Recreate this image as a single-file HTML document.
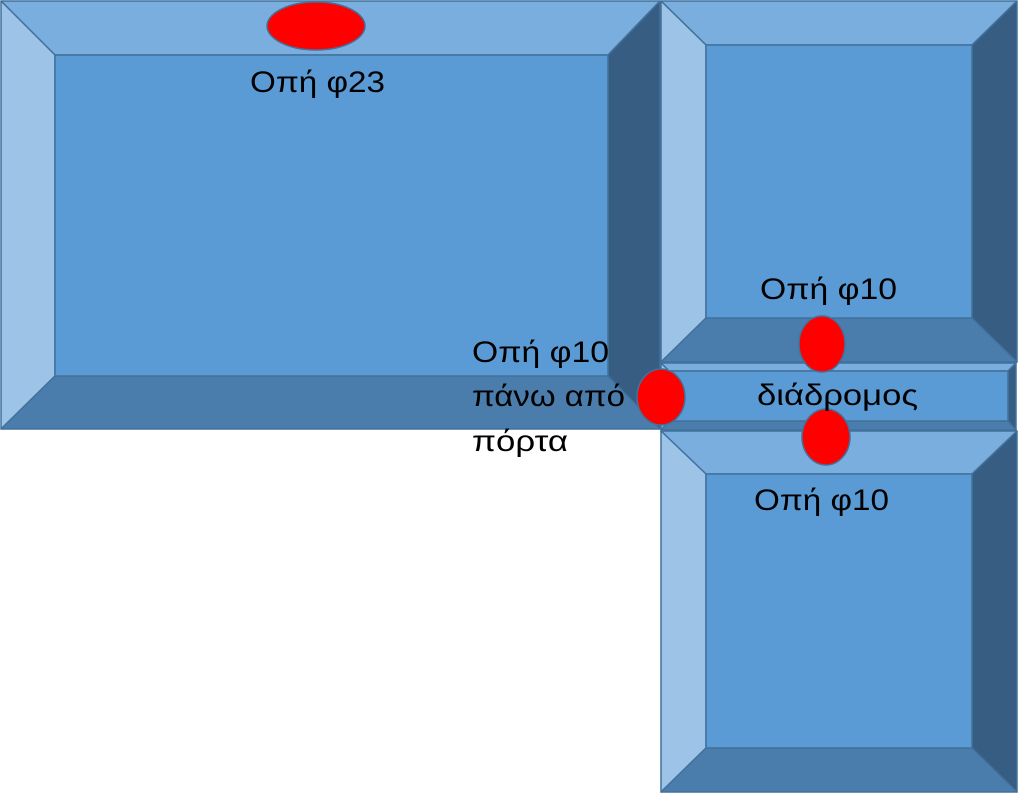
<!DOCTYPE html>
<html><head><meta charset="utf-8"><style>
html,body{margin:0;padding:0;background:#fff;}
svg{display:block;}
text{font-family:"Liberation Sans","DejaVu Sans",sans-serif;font-size:30px;fill:#000;}
</style></head><body>
<svg width="1018" height="793" viewBox="0 0 1018 793" xmlns="http://www.w3.org/2000/svg">
<g stroke="#41719c" stroke-width="1.5" stroke-linejoin="round">
<polygon points="1,1 660,1 608,55 55,55" fill="#7aaedf"/>
<polygon points="1,1 55,55 55,376 1,429" fill="#9dc3e6"/>
<polygon points="660,1 660,429 608,376 608,55" fill="#375d83"/>
<polygon points="1,429 660,429 608,376 55,376" fill="#4a7dab"/>
<rect x="55" y="55" width="553" height="321" fill="#5b9bd5"/>
<polygon points="661,1 1017,1 972,45 706,45" fill="#7aaedf"/>
<polygon points="661,1 706,45 706,318 661,362" fill="#9dc3e6"/>
<polygon points="1017,1 1017,362 972,318 972,45" fill="#375d83"/>
<polygon points="661,362 1017,362 972,318 706,318" fill="#4a7dab"/>
<rect x="706" y="45" width="266" height="273" fill="#5b9bd5"/>
<polygon points="661,363 1016,363 1008,371 669,371" fill="#7aaedf"/>
<polygon points="661,363 669,371 669,421 661,430" fill="#9dc3e6"/>
<polygon points="1016,363 1016,430 1008,421 1008,371" fill="#375d83"/>
<polygon points="661,430 1016,430 1008,421 669,421" fill="#4a7dab"/>
<rect x="669" y="371" width="339" height="50" fill="#5b9bd5"/>
<polygon points="661,431 1017,431 972,474 706,474" fill="#7aaedf"/>
<polygon points="661,431 706,474 706,748 661,792" fill="#9dc3e6"/>
<polygon points="1017,431 1017,792 972,748 972,474" fill="#375d83"/>
<polygon points="661,792 1017,792 972,748 706,748" fill="#4a7dab"/>
<rect x="706" y="474" width="266" height="274" fill="#5b9bd5"/>
</g>
<g fill="#ff0000" stroke="#41719c" stroke-width="1.5">
<ellipse cx="316" cy="26" rx="49" ry="24"/>
<ellipse cx="822" cy="344" rx="23" ry="28"/>
<ellipse cx="661" cy="397" rx="24" ry="28"/>
<ellipse cx="826" cy="437" rx="24" ry="28"/>
</g>
<text x="250" y="92" textLength="135" lengthAdjust="spacingAndGlyphs">Οπή φ23</text>
<text x="760" y="299" textLength="137" lengthAdjust="spacingAndGlyphs">Οπή φ10</text>
<text x="472" y="362" textLength="137" lengthAdjust="spacingAndGlyphs">Οπή φ10</text>
<text x="472" y="406" textLength="153" lengthAdjust="spacingAndGlyphs">πάνω από</text>
<text x="472" y="451" textLength="96" lengthAdjust="spacingAndGlyphs">πόρτα</text>
<text x="757" y="405" textLength="161" lengthAdjust="spacingAndGlyphs">διάδρομος</text>
<text x="754" y="510" textLength="135" lengthAdjust="spacingAndGlyphs">Οπή φ10</text>
</svg>
</body></html>
